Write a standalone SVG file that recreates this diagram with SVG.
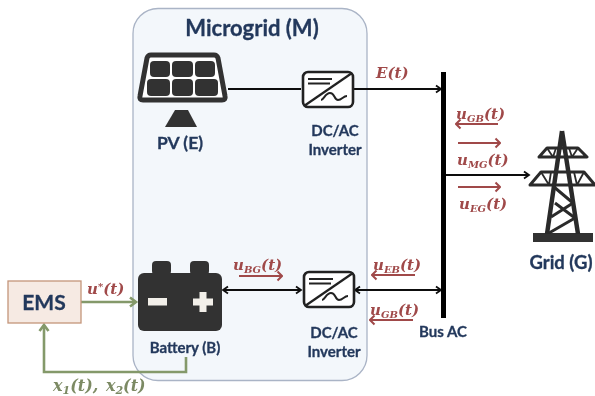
<svg xmlns="http://www.w3.org/2000/svg" width="595" height="396" viewBox="0 0 595 396">
<defs>
<style>
.t{font-family:Lato,"Liberation Sans",sans-serif;font-weight:700;fill:#24395c;stroke:#24395c;stroke-width:.3;text-anchor:middle}
.m{font-family:"DejaVu Serif",serif;font-weight:700;font-style:italic;font-size:15px;fill:#a04a4a}
.s{font-size:10px}
.g{fill:#7c8a64;font-size:16px;word-spacing:2px}
.g .s{font-size:11px}
.k{stroke:#111;stroke-width:2;fill:none}
.r{stroke:#a04a4a;stroke-width:2.200;fill:none}
.v{stroke:#84996a;stroke-width:2.600;fill:none}
.d{fill:#333}
.l{stroke:#2b2b2b;fill:none}
</style>
<filter id="b" x="-5%" y="-5%" width="110%" height="110%"><feGaussianBlur stdDeviation="0.4"/></filter>
<marker id="ak" markerUnits="userSpaceOnUse" markerWidth="10" markerHeight="10" refX="7" refY="5" orient="auto-start-reverse"><path d="M2 1.500L7 5L2 8.500" fill="none" stroke="#111" stroke-width="1.800"/></marker>
<marker id="af" markerUnits="userSpaceOnUse" markerWidth="12" markerHeight="12" refX="11" refY="6" orient="auto"><path d="M6.500 1.500L11 6L6.500 10.500" fill="none" stroke="#a04a4a" stroke-width="2"/></marker>
<marker id="av" markerUnits="userSpaceOnUse" markerWidth="14" markerHeight="14" refX="11" refY="7" orient="auto"><path d="M5 2.500L11 7L5 11.500" fill="none" stroke="#84996a" stroke-width="2.600"/></marker>
<g id="inv"><rect x="1" y="1" width="50" height="35" rx="5" fill="#fff" stroke="#222" stroke-width="2.600"/><path d="M2 35L50 2" stroke="#222" stroke-width="2.200"/><path d="M6 8H30M6 12.500H28" stroke="#222" stroke-width="2"/><path d="M19 29c3 0 4-7 9-7s4 7 8 7 5-4 9-4" fill="none" stroke="#222" stroke-width="2"/></g>
</defs>
<rect width="595" height="396" fill="#fff"/>
<g filter="url(#b)">
<g id="microgrid"><rect x="133" y="8.500" width="234" height="372" rx="25" fill="#f3f7fb" stroke="#aab4c6" stroke-width="1.300"/><text class="t" x="252" y="36" font-size="22">Microgrid (M)</text></g>
<g id="connectors">
<path class="k" d="M228 89H301"/>
<path class="k" d="M354 89H441" marker-end="url(#ak)"/>
<path class="k" d="M223 290H301" marker-start="url(#ak)" marker-end="url(#ak)"/>
<path class="k" d="M355 290H441" marker-start="url(#ak)" marker-end="url(#ak)"/>
<path class="k" d="M446 175H529" marker-end="url(#ak)"/>
<path class="v" d="M81 302H136" marker-end="url(#av)"/>
<path class="v" d="M186 357V372H44V325" marker-end="url(#av)"/>
<path class="r" d="M498 124H456" marker-end="url(#af)"/>
<path class="r" d="M458 143H500" marker-end="url(#af)"/>
<path class="r" d="M458 187H500" marker-end="url(#af)"/>
<path class="r" d="M239 276H282" marker-end="url(#af)"/>
<path class="r" d="M415 275H372" marker-end="url(#af)"/>
<path class="r" d="M413 320H370" marker-end="url(#af)"/>
</g>
<g id="pv">
<path d="M151 55H214Q217 55 218 58L225 96Q226 100 222 100H143Q139 100 140 96L147 58Q148 55 151 55Z" fill="#fff" stroke="#333" stroke-width="5"/>
<g class="d"><rect x="150" y="61" width="20" height="16" rx="4"/><rect x="172" y="61" width="21" height="16" rx="4"/><rect x="195" y="61" width="20" height="16" rx="4"/><rect x="147" y="79" width="23" height="17" rx="4"/><rect x="172" y="79" width="21" height="17" rx="4"/><rect x="195" y="79" width="23" height="17" rx="4"/>
<path d="M175 110H188L197 127H165Z"/></g>
<text class="t" x="180" y="149" font-size="17.500">PV (E)</text>
</g>
<g id="inverter-top"><use href="#inv" x="302" y="71"/><text class="t" x="335" y="136" font-size="15">DC/AC</text><text class="t" x="335" y="155" font-size="15">Inverter</text></g>
<g id="inverter-bottom"><use href="#inv" x="303" y="271"/><text class="t" x="334" y="338" font-size="15">DC/AC</text><text class="t" x="334" y="357" font-size="15">Inverter</text></g>
<g id="battery">
<rect x="152" y="261" width="19" height="14" rx="4" class="d"/><rect x="190" y="261" width="19" height="14" rx="4" class="d"/>
<rect x="138" y="273" width="84" height="58" rx="6" class="d"/>
<rect x="148" y="298" width="19" height="7.500" fill="#f2efe9"/><path d="M203 292V312M193 302H213" stroke="#f2efe9" stroke-width="7"/>
<text class="t" x="185" y="353" font-size="15">Battery (B)</text>
</g>
<g id="ems"><rect x="8" y="281" width="73" height="42" fill="#f6eae3" stroke="#c4957a" stroke-width="1.300"/><text class="t" x="44" y="310" font-size="21">EMS</text></g>
<g id="bus"><rect x="441" y="72" width="5" height="246" fill="#000"/><text class="t" x="443" y="337" font-size="15">Bus AC</text></g>
<g id="grid">
<rect x="533" y="233" width="60" height="9" fill="#333"/>
<g class="l" stroke-linejoin="round">
<path d="M562 131L547 234M562 131L578 234" stroke-width="4.500"/>
<path d="M539 157L547 148H578L587 157H539ZM530 185L541 172H584L595 185H530Z" stroke-width="3"/>
<path d="M547 148L553 157M556 148L553 157M569 148L572 157M578 148L572 157M541 172L549 185M551 172L549 185M574 172L577 185M584 172L577 185" stroke-width="1.800"/>
<path d="M554 187L573 203L551 217M555 203L575 218L549 233" stroke-width="3"/>
</g>
<text class="t" x="561" y="269" font-size="18.500">Grid (G)</text>
</g>
<g id="labels">
<text class="m" x="376" y="78">E(t)</text>
<text class="m" x="456" y="119">u<tspan class="s" dy="3">GB</tspan><tspan dy="-3">(t)</tspan></text>
<text class="m" x="457" y="165">u<tspan class="s" dy="3">MG</tspan><tspan dy="-3">(t)</tspan></text>
<text class="m" x="459" y="209">u<tspan class="s" dy="3">EG</tspan><tspan dy="-3">(t)</tspan></text>
<text class="m" x="233" y="270">u<tspan class="s" dy="3">BG</tspan><tspan dy="-3">(t)</tspan></text>
<text class="m" x="373" y="270">u<tspan class="s" dy="3">EB</tspan><tspan dy="-3">(t)</tspan></text>
<text class="m" x="370" y="315">u<tspan class="s" dy="3">GB</tspan><tspan dy="-3">(t)</tspan></text>
<text class="m" x="87" y="294">u<tspan class="s" dy="-4">*</tspan><tspan dy="4">(t)</tspan></text>
<text class="m g" x="53" y="391">x<tspan class="s" dy="3">1</tspan><tspan dy="-3">(t), x</tspan><tspan class="s" dy="3">2</tspan><tspan dy="-3">(t)</tspan></text>
</g>
</g>
</svg>
